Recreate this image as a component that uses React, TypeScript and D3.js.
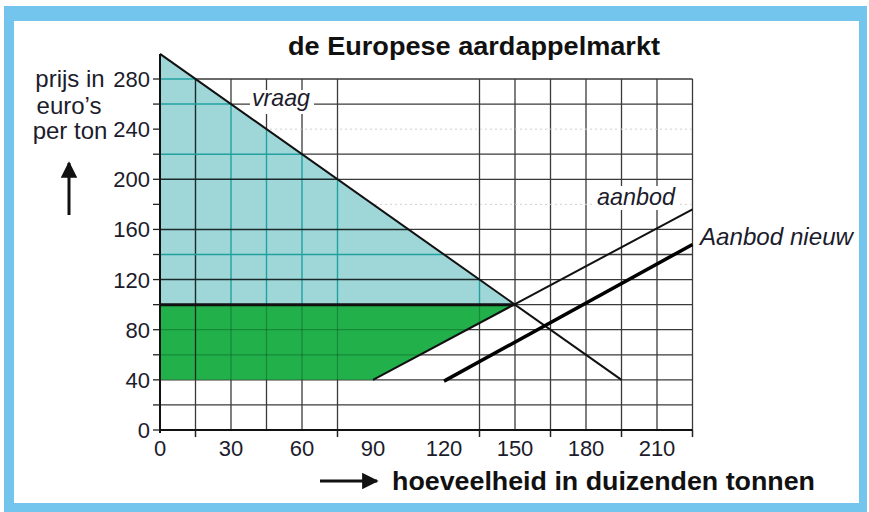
import React from "react";
import * as d3 from "d3";

// ---- data ----
const demandQ = [0, 195];
const demandP = [300, 40];
const supplyQ = [90, 225];
const supplyP = [40, 176];
const newSupplyQ = [120, 225];
const newSupplyP = [39, 148];
const priceLevel = 100;
const equilibriumQ = 150;
const minPrice = 40;

const xTickLabels = [0, 30, 60, 90, 120, 150, 180, 210];
const yTickLabels = [0, 40, 80, 120, 160, 200, 240, 280];
const xGridVals = [15, 30, 45, 60, 75, 135, 150, 165, 180, 195, 210, 225];
const yGridVals = [20, 40, 60, 80, 100, 120, 140, 160, 200, 220, 260, 280];
const yFaintVals = [180, 240];
const xTickMarks = [15, 75, 135, 165, 195, 225];
const yTickMarks = [0, 20, 40, 60, 80, 100, 120, 140, 160, 180, 200, 220, 240, 260, 280];
const cyanDarkX = [15];
const cyanDarkY = [120, 160, 200];

const FONT = "'Liberation Sans', Arial, Helvetica, sans-serif";

export default function App() {
  const W = 869, H = 512;
  const x = d3.scaleLinear().domain([0, 225]).range([160, 692.5]);
  const y = d3.scaleLinear().domain([0, 280]).range([430, 79]);
  const xMax = 225, yMax = 280;

  const line = d3.line<[number, number]>().x(d => x(d[0])).y(d => y(d[1]));
  const pts = (qs: number[], ps: number[]) => qs.map((q, i) => [q, ps[i]] as [number, number]);

  const cyanPoly: [number, number][] = [[0, demandP[0]], [equilibriumQ, priceLevel], [0, priceLevel]];
  const greenPoly: [number, number][] = [[0, priceLevel], [equilibriumQ, priceLevel], [supplyQ[0], minPrice], [0, minPrice]];
  const cyanPath = line(cyanPoly)! + "Z";
  const greenPath = line(greenPoly)! + "Z";

  const vLine = (v: number, stroke: string, w = 1.3, dash?: string) => (
    <line key={"v" + v} x1={x(v)} x2={x(v)} y1={y(0)} y2={y(yMax)} stroke={stroke} strokeWidth={w} strokeDasharray={dash} />
  );
  const hLine = (v: number, stroke: string, w = 1.3, dash?: string) => (
    <line key={"h" + v} x1={x(0)} x2={x(xMax)} y1={y(v)} y2={y(v)} stroke={stroke} strokeWidth={w} strokeDasharray={dash} />
  );

  const textColor = "#1c1c2c";

  return (
    <svg width={W} height={H} style={{ position: "absolute", left: 0, top: 0 }} fontFamily={FONT}>
      <defs>
        <clipPath id="cyanClip"><path d={cyanPath} /></clipPath>
        <clipPath id="greenClip"><path d={greenPath} /></clipPath>
        <marker id="arrowHead" viewBox="0 0 10 10" refX="9" refY="5" markerWidth="5.5" markerHeight="5.5" orient="auto">
          <path d="M0,0 L10,5 L0,10 Z" fill="#111" />
        </marker>
      </defs>
      {/* frame */}
      <rect x={0} y={0} width={W} height={H} fill="#ffffff" />
      <rect x={4} y={6} width={863} height={H - 6} fill="#74c5ee" />
      <rect x={14} y={21} width={845} height={482} fill="#ffffff" />

      {/* title */}
      <text x={288} y={55} fontSize={26} fontWeight="bold" fill="#111" textLength={372} lengthAdjust="spacingAndGlyphs">
        de Europese aardappelmarkt
      </text>

      {/* grid */}
      <g>
        {xGridVals.map(v => vLine(v, "#3a3a3a"))}
        {yGridVals.map(v => hLine(v, "#3a3a3a"))}
        {yFaintVals.map(v => hLine(v, "#d0d0d0", 1, "2,3"))}
      </g>

      {/* fills */}
      <path d={cyanPath} fill="#9fd7d9" />
      <path d={greenPath} fill="#22b04b" />

      {/* grid inside cyan */}
      <g clipPath="url(#cyanClip)">
        {xGridVals.map(v => vLine(v, cyanDarkX.includes(v) ? "#1a2a2a" : "#22a0a0", 1.4))}
        {yGridVals.map(v => hLine(v, cyanDarkY.includes(v) ? "#1a2a2a" : "#22a0a0", 1.4))}
      </g>
      {/* grid inside green */}
      <g clipPath="url(#greenClip)">
        {xGridVals.map(v => vLine(v, cyanDarkX.includes(v) ? "#1a2a1a" : "rgba(0,70,20,0.35)", 1.3))}
        {yGridVals.map(v => hLine(v, "rgba(0,70,20,0.35)", 1.3))}
      </g>

      {/* axes */}
      <line x1={x(0)} x2={x(0)} y1={y(0) + 3} y2={y(demandP[0])} stroke="#111" strokeWidth={2} />
      <line x1={x(0)} x2={x(xMax)} y1={y(0)} y2={y(0)} stroke="#111" strokeWidth={2} />
      {xTickMarks.map(v => (
        <line key={"xt" + v} x1={x(v)} x2={x(v)} y1={y(0)} y2={y(0) + 7} stroke="#222" strokeWidth={1.5} />
      ))}
      {yTickMarks.map(v => (
        <line key={"yt" + v} x1={x(0) - 7} x2={x(0)} y1={y(v)} y2={y(v)} stroke="#222" strokeWidth={1.3} />
      ))}

      {/* price level line */}
      <line x1={x(0)} x2={x(equilibriumQ)} y1={y(priceLevel)} y2={y(priceLevel)} stroke="#111" strokeWidth={3} />

      {/* curves */}
      <path d={line(pts(demandQ, demandP))!} fill="none" stroke="#111" strokeWidth={2} />
      <path d={line(pts(supplyQ, supplyP))!} fill="none" stroke="#111" strokeWidth={2} />
      <path d={line(pts(newSupplyQ, newSupplyP))!} fill="none" stroke="#000" strokeWidth={3.5} />

      {/* tick labels */}
      {yTickLabels.map(v => (
        <text key={"yl" + v} x={150} y={y(v) + 8} fontSize={22} textAnchor="end" fill={textColor}>{v}</text>
      ))}
      {xTickLabels.map(v => (
        <text key={"xl" + v} x={x(v)} y={456} fontSize={22} textAnchor="middle" fill={textColor}>{v}</text>
      ))}

      {/* y axis title */}
      <g fontSize={24} textAnchor="middle" fill={textColor}>
        <text x={70} y={87}>prijs in</text>
        <text x={69} y={114}>euro’s</text>
        <text x={70} y={139}>per ton</text>
      </g>
      <line x1={69} x2={69} y1={215} y2={163} stroke="#111" strokeWidth={3} markerEnd="url(#arrowHead)" />

      {/* x axis title */}
      <line x1={320} x2={377} y1={481} y2={481} stroke="#111" strokeWidth={3} markerEnd="url(#arrowHead)" />
      <text x={392} y={490} fontSize={26} fontWeight="bold" fill="#111" textLength={423} lengthAdjust="spacingAndGlyphs">
        hoeveelheid in duizenden tonnen
      </text>

      {/* curve labels */}
      <rect x={250} y={90} width={64} height={24} fill="#fff" />
      <text x={252} y={106} fontSize={24} fontStyle="italic" fill={textColor} textLength={58} lengthAdjust="spacingAndGlyphs">vraag</text>
      <rect x={594} y={186} width={84} height={24} fill="#fff" />
      <text x={597} y={205} fontSize={24} fontStyle="italic" fill={textColor} textLength={78} lengthAdjust="spacingAndGlyphs">aanbod</text>
      <text x={700} y={245} fontSize={24} fontStyle="italic" fill={textColor} textLength={153} lengthAdjust="spacingAndGlyphs">Aanbod nieuw</text>
    </svg>
  );
}
